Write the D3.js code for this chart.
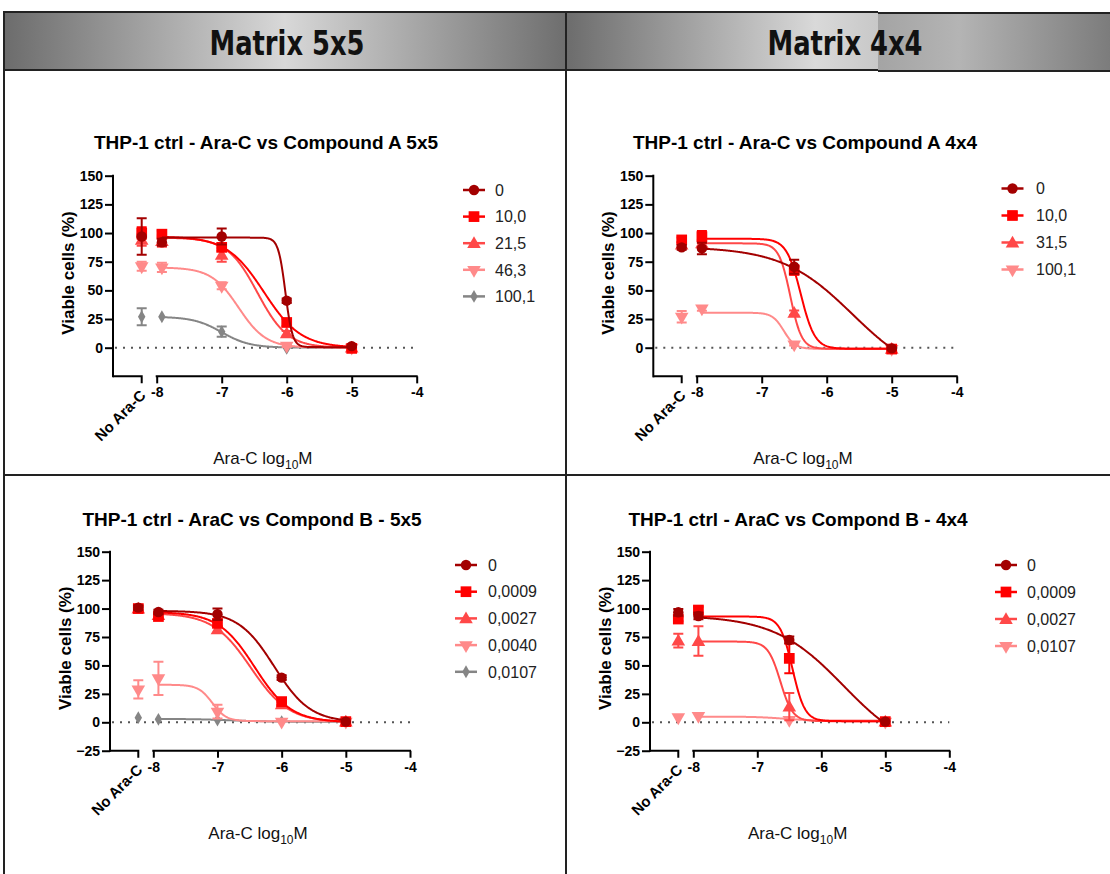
<!DOCTYPE html>
<html>
<head>
<meta charset="UTF-8">
<script src="https://d3js.org/d3.v7.min.js"></script>
<style>
    body { margin: 0; background: #fff; }
    svg { display: block; font-family: "Liberation Sans", Arial, sans-serif; }
</style>
</head>
<body>
<svg id="chart" width="1110" height="874"></svg>
<script>
// ---- data ----
// Ara-C doses (log10 M) and the series of each panel
const colors5 = ["#a30000", "#ff0000", "#ff4848", "#ff8a8a", "#858585"];
const colors4 = ["#a30000", "#ff0000", "#ff4848", "#ff8a8a"];

// Compound A 5x5
const a5Labels = ["0", "10,0", "21,5", "46,3", "100,1"];
const a5Doses = [-7.92, -7, -6, -5];
const a5NoAraC = [97, 100, 94, 71, 27];
const a5NoAraCErr = [16, 5, 5, 4, 7.5];
const a5Values = [
    [92, 97, 41, 1.4],
    [99, 87.5, 22, -0.6],
    [93, 81, 12.5, 0],
    [70, 54, 1.7, 0],
    [27, 14, -0.6, 0]
];
const a5Err = [
    [3, 7, 2, 1],
    [3, 3, 3, 1],
    [5, 6, 2, 1],
    [4, 3, 1, 0],
    [0, 4.4, 0, 0]
];
// fit: top, bottom, logIC50, hill slope
const a5Fit = [
    [96, 0.5, -6.02, 8],
    [97, 0, -6.35, 1.52],
    [96, 0, -6.45, 1.88],
    [70, 0, -6.74, 2.06],
    [27, 0, -7.0, 2]
];

// Compound A 4x4
const a4Labels = ["0", "10,0", "31,5", "100,1"];
const a4Doses = [-7.92, -6.5, -5];
const a4NoAraC = [87.5, 94, 90, 27];
const a4NoAraCErr = [2, 2, 2, 5];
const a4Values = [
    [86.6, 70.6, -0.6],
    [96.8, 67.7, -1.2],
    [91, 30.5, -1],
    [34.3, 2.9, -1]
];
const a4Err = [
    [5, 6, 1],
    [5, 4, 1],
    [3, 2, 0],
    [2, 1, 0]
];
const a4Fit = [
    [88, -30, -5.6, 0.8],
    [95, -1, -6.4, 4],
    [91, -1, -6.56, 5],
    [30.5, -1, -6.66, 5]
];

// Compound B 5x5
const b5Labels = ["0", "0,0009", "0,0027", "0,0040", "0,0107"];
const b5Doses = [-7.92, -7, -6, -5];
const b5NoAraC = [100.8, 100, 100, 29, 4.1];
const b5NoAraCErr = [2, 3, 2, 8, 0];
const b5Values = [
    [97, 95, 39.3, 0.6],
    [93, 87, 18.2, 0.6],
    [94.3, 81.7, 15.8, 0.6],
    [38.7, 9.4, 0.6, 0.6],
    [2.6, 2, 0.6, 0.6]
];
const b5Err = [
    [2, 5, 2, 0.5],
    [2, 3, 3, 0.5],
    [2, 3, 2, 0.5],
    [14.6, 6, 0, 0],
    [0, 0, 0, 0]
];
const b5Fit = [
    [98, 0, -6.115, 1.55],
    [97, 0, -6.42, 1.54],
    [96, 0, -6.48, 1.47],
    [33, 1, -7.08, 4],
    [3, 0.5, -6.8, 1.5]
];

// Compound B 4x4
const b4Labels = ["0", "0,0009", "0,0027", "0,0107"];
const b4Doses = [-7.92, -6.5, -5];
const b4NoAraC = [96.7, 90.8, 71.8, 4.4];
const b4NoAraCErr = [3, 2, 6, 0];
const b4Values = [
    [93.5, 72.4, 0.6],
    [98.7, 56.2, 0.6],
    [71.5, 13.8, 0.6],
    [5.6, 2, 0.6]
];
const b4Err = [
    [3, 3, 0.5],
    [3, 13, 0.5],
    [13, 12, 0.5],
    [0, 0, 0]
];
const b4Fit = [
    [94, -30, -5.65, 0.8],
    [93, 1, -6.45, 4.5],
    [71, 1, -6.64, 4.5],
    [5, 1.5, -6.6, 2]
];

const topYTicks = [0, 25, 50, 75, 100, 125, 150];
const botYTicks = [-25, 0, 25, 50, 75, 100, 125, 150];
const xTicks = [-8, -7, -6, -5, -4];
const shapes = ["circle", "square", "up", "down", "diamond"];

const panels = [
    { title: "THP-1 ctrl - Ara-C vs Compound A 5x5", labels: a5Labels, doses: a5Doses, noAraC: a5NoAraC,
      noAraCErr: a5NoAraCErr, values: a5Values, err: a5Err, fit: a5Fit, colors: colors5, yTicks: topYTicks,
      axisX: 113, noX: 141.7, x8: 156.7, x4: 416.7, y150: 175.7, y0: 347.7, titleX: 266, titleY: 142,
      legX: 463, legTextX: 495, legY: 190, legStep: 26.6 },
    { title: "THP-1 ctrl - Ara-C vs Compound A 4x4", labels: a4Labels, doses: a4Doses, noAraC: a4NoAraC,
      noAraCErr: a4NoAraCErr, values: a4Values, err: a4Err, fit: a4Fit, colors: colors4, yTicks: topYTicks,
      axisX: 653.3, noX: 681.7, x8: 696.7, x4: 956.7, y150: 175.7, y0: 347.7, titleX: 805, titleY: 142,
      legX: 1001.5, legTextX: 1036, legY: 188.5, legStep: 27 },
    { title: "THP-1 ctrl - AraC vs Compond B - 5x5", labels: b5Labels, doses: b5Doses, noAraC: b5NoAraC,
      noAraCErr: b5NoAraCErr, values: b5Values, err: b5Err, fit: b5Fit, colors: colors5, yTicks: botYTicks,
      axisX: 110, noX: 138.3, x8: 153.3, x4: 410, y150: 551.7, y0: 722.3, titleX: 252, titleY: 519,
      legX: 455, legTextX: 488, legY: 565, legStep: 26.7 },
    { title: "THP-1 ctrl - AraC vs Compond B - 4x4", labels: b4Labels, doses: b4Doses, noAraC: b4NoAraC,
      noAraCErr: b4NoAraCErr, values: b4Values, err: b4Err, fit: b4Fit, colors: colors4, yTicks: botYTicks,
      axisX: 650, noX: 678.3, x8: 693.3, x4: 949.3, y150: 551.7, y0: 722.3, titleX: 798, titleY: 519,
      legX: 995, legTextX: 1027, legY: 565, legStep: 27 }
];

const svg = d3.select("#chart");

// ---- header / table frame ----
const defs = svg.append("defs");
function grad(id, stops) {
    const lg = defs.append("linearGradient").attr("id", id).attr("x1", 0).attr("x2", 1).attr("y1", 0).attr("y2", 0);
    stops.forEach(s => lg.append("stop").attr("offset", s[0]).attr("stop-color", s[1]));
}
grad("hdrL", [[0, "#6c6c6c"], [0.5, "#d8d8d8"], [1, "#6e6e6e"]]);
grad("hdrR", [[0, "#6c6c6c"], [0.8, "#d9d9d9"], [1, "#c8c8c8"]]);
grad("hdrR2", [[0, "#a4a4a4"], [0.35, "#b4b4b4"], [1, "#7c7c7c"]]);

svg.append("rect").attr("x", 4).attr("y", 12).attr("width", 562).attr("height", 58).attr("fill", "url(#hdrL)");
svg.append("rect").attr("x", 566).attr("y", 12).attr("width", 312).attr("height", 58).attr("fill", "url(#hdrR)");
svg.append("rect").attr("x", 878).attr("y", 13).attr("width", 232).attr("height", 58).attr("fill", "url(#hdrR2)");

const frame = svg.append("g").attr("stroke", "#222").attr("stroke-width", 2);
frame.append("line").attr("x1", 4).attr("x2", 878).attr("y1", 12).attr("y2", 12);
frame.append("line").attr("x1", 878).attr("x2", 1110).attr("y1", 13).attr("y2", 13);
frame.append("line").attr("x1", 4).attr("x2", 878).attr("y1", 70).attr("y2", 70);
frame.append("line").attr("x1", 878).attr("x2", 1110).attr("y1", 71).attr("y2", 71);
frame.append("line").attr("x1", 4).attr("x2", 4).attr("y1", 11).attr("y2", 874);
frame.append("line").attr("x1", 566).attr("x2", 566).attr("y1", 11).attr("y2", 874);
frame.append("line").attr("x1", 4).attr("x2", 1110).attr("y1", 475).attr("y2", 475);

svg.selectAll("text.hdr")
    .data(["Matrix 5x5", "Matrix 4x4"])
    .enter().append("text")
    .attr("class", "hdr")
    .attr("x", (d, i) => i === 0 ? 287 : 845)
    .attr("y", 55)
    .attr("text-anchor", "middle")
    .attr("textLength", 155)
    .attr("lengthAdjust", "spacingAndGlyphs")
    .style("font-family", "'Liberation Sans Narrow', 'DejaVu Sans Condensed', sans-serif")
    .style("font-weight", "bold")
    .style("font-size", "34px")
    .attr("fill", "#111")
    .text(d => d);

// ---- helpers ----
function symbolPath(shape, size) {
    const t = {
        circle: d3.symbolCircle, square: d3.symbolSquare, up: d3.symbolTriangle,
        down: d3.symbolTriangle, diamond: d3.symbolDiamond
    }[shape];
    return d3.symbol().type(t).size(size)();
}
const symbolSize = { circle: 85, square: 115, up: 80, down: 80, diamond: 48 };

function drawMarker(g, shape, color, cx, cy) {
    g.append("path")
        .attr("d", symbolPath(shape, symbolSize[shape]))
        .attr("transform", `translate(${cx},${cy})` + (shape === "down" ? " rotate(180)" : "") +
            (shape === "up" ? " translate(0,1)" : ""))
        .attr("fill", color);
}

function hill(f, lx) {
    return f[1] + (f[0] - f[1]) / (1 + Math.pow(10, (lx - f[2]) * f[3]));
}

// ---- panels ----
panels.forEach(p => {
    const g = svg.append("g");
    const x = d3.scaleLinear().domain([-8, -4]).range([p.x8, p.x4]);
    const y = d3.scaleLinear().domain([0, 150]).range([p.y0, p.y150]);
    const yBase = y(-25);

    g.append("text")
        .attr("x", p.titleX)
        .attr("y", p.titleY + 7)
        .attr("text-anchor", "middle")
        .style("font-weight", "bold")
        .style("font-size", "19px")
        .text(p.title);

    // y axis
    const yAxis = d3.axisLeft(y).tickValues(p.yTicks).tickSize(8).tickSizeOuter(0).tickPadding(2);
    const ya = g.append("g").attr("transform", `translate(${p.axisX},0)`).call(yAxis);
    ya.select(".domain").remove();
    ya.append("line").attr("x1", 0).attr("x2", 0).attr("y1", y(150) - 1).attr("y2", yBase + 1)
        .attr("stroke", "#000").attr("stroke-width", 2);
    ya.selectAll(".tick line").attr("stroke-width", 2);
    ya.selectAll(".tick text").style("font-size", "14px").style("font-weight", "bold").attr("fill", "#000");

    g.append("text")
        .attr("transform", `translate(${p.axisX - 45},${(y(150) + yBase) / 2 - 3}) rotate(-90)`)
        .attr("text-anchor", "middle")
        .attr("dy", "0.35em")
        .style("font-weight", "bold")
        .style("font-size", "17px")
        .text("Viable cells (%)");

    // x axis: No Ara-C segment
    g.append("path")
        .attr("d", `M${p.axisX},${yBase}H${p.noX}V${yBase + 7}`)
        .attr("fill", "none").attr("stroke", "#000").attr("stroke-width", 2);
    g.append("text")
        .attr("transform", `translate(${p.noX + 5},${yBase + 20}) rotate(-45)`)
        .attr("text-anchor", "end")
        .style("font-weight", "bold")
        .style("font-size", "15px")
        .text("No Ara-C");

    // x axis: dose segment
    const xAxis = d3.axisBottom(x).tickValues(xTicks).tickSize(7).tickSizeOuter(0).tickPadding(4)
        .tickFormat(d3.format("d"));
    const xa = g.append("g").attr("transform", `translate(0,${yBase})`).call(xAxis);
    xa.select(".domain").attr("stroke-width", 2).attr("d", `M${p.x8 - 1},0H${p.x4 + 1}`);
    xa.selectAll(".tick line").attr("stroke-width", 2);
    xa.selectAll(".tick text").style("font-size", "14px").style("font-weight", "bold").attr("fill", "#000")
        .text(d => d === 0 ? "0" : "-" + Math.abs(d));

    const xt = g.append("text")
        .attr("x", (p.axisX + p.x4) / 2 - 2)
        .attr("y", yBase + 88)
        .attr("text-anchor", "middle")
        .style("font-size", "17px")
        .attr("fill", "#111");
    xt.append("tspan").text("Ara-C log");
    xt.append("tspan").attr("dy", 5).style("font-size", "12px").text("10");
    xt.append("tspan").attr("dy", -5).text("M");

    // zero reference line
    g.append("line")
        .attr("x1", p.axisX + 2).attr("x2", p.x4).attr("y1", y(0)).attr("y2", y(0))
        .attr("stroke", "#555").attr("stroke-width", 2).attr("stroke-dasharray", "2,6");

    // series, last first so the first series ends up on top
    const order = d3.range(p.labels.length).reverse();
    order.forEach(i => {
        const color = p.colors[i];
        const shape = shapes[i];
        const sg = g.append("g");

        // fitted curve
        const f = p.fit[i];
        const lo = p.doses[0], hi = p.doses[p.doses.length - 1];
        const pts = d3.range(lo, hi + 0.0001, 0.01).map(lx => [lx, hill(f, lx)]);
        sg.append("path")
            .datum(pts)
            .attr("d", d3.line().x(d => x(d[0])).y(d => y(d[1])))
            .attr("fill", "none").attr("stroke", color).attr("stroke-width", 2);

        // error bars
        const bars = [[p.noX, p.noAraC[i], p.noAraCErr[i]]]
            .concat(p.doses.map((lx, j) => [x(lx), p.values[i][j], p.err[i][j]]));
        bars.forEach(b => {
            if (b[2] <= 0.5) return;
            const top = y(b[1] + b[2]), bot = y(b[1] - b[2]);
            sg.append("path")
                .attr("d", `M${b[0] - 5},${top}H${b[0] + 5}M${b[0]},${top}V${bot}M${b[0] - 5},${bot}H${b[0] + 5}`)
                .attr("fill", "none").attr("stroke", color).attr("stroke-width", 2);
        });
        bars.forEach(b => drawMarker(sg, shape, color, b[0], y(b[1])));

        // legend entry
        const ly = p.legY + i * p.legStep;
        g.append("line").attr("x1", p.legX).attr("x2", p.legX + 22).attr("y1", ly).attr("y2", ly)
            .attr("stroke", color).attr("stroke-width", 2.5);
        drawMarker(g, shape, color, p.legX + 11, ly);
        g.append("text")
            .attr("x", p.legTextX).attr("y", ly).attr("dy", "0.36em")
            .style("font-size", "16px").attr("fill", "#222")
            .text(p.labels[i]);
    });
});
</script>
</body>
</html>
